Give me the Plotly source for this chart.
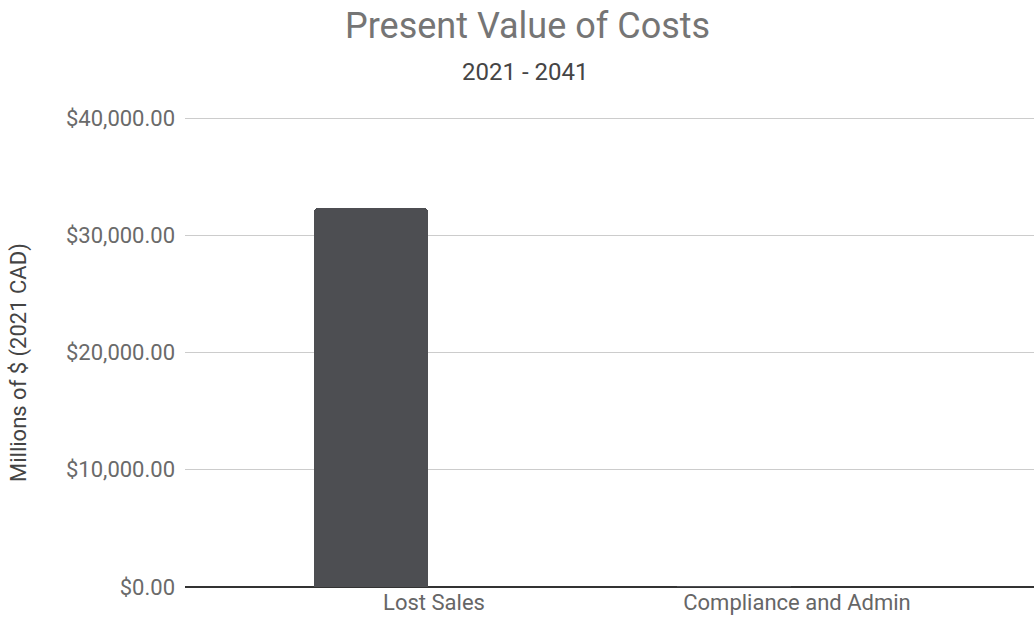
import plotly.graph_objects as go

categories = ["Lost Sales", "Compliance and Admin"]
present_value = [32350, 38]
tick_values = [0, 10000, 20000, 30000, 40000]
tick_labels = ["$0.00", "$10,000.00", "$20,000.00", "$30,000.00", "$40,000.00"]

PLOT_LEFT, PLOT_TOP, PLOT_BOTTOM = 185, 114, 37
PLOT_W = 1034 - PLOT_LEFT
PLOT_H = 624 - PLOT_TOP - PLOT_BOTTOM
# headroom above the top gridline so it is kept inside the plot area
HEADROOM_PX = 4


def page_x(px):
    return (px - PLOT_LEFT) / PLOT_W


def page_y(py):
    return (624 - PLOT_BOTTOM - py) / PLOT_H


fig = go.Figure(
    go.Bar(
        x=categories,
        y=present_value,
        marker=dict(color="#4d4e52", cornerradius=4, line=dict(width=0)),
        offset=-0.33,
        width=0.314,
        hoverinfo="x+y",
    )
)

fig.update_layout(
    width=1034,
    height=624,
    margin=dict(l=PLOT_LEFT, r=0, t=PLOT_TOP, b=PLOT_BOTTOM),
    paper_bgcolor="white",
    plot_bgcolor="white",
    font=dict(family="Roboto, Arial, sans-serif", color="#5f5f5f"),
    showlegend=False,
    bargap=0,
)

# title, subtitle and y-axis caption, positioned in page pixels
fig.add_annotation(
    text="Present Value of Costs", xref="paper", yref="paper",
    x=page_x(527), y=page_y(26), xanchor="center", yanchor="middle",
    showarrow=False, font=dict(size=36, color="#757575"),
)
fig.add_annotation(
    text="2021 - 2041", xref="paper", yref="paper",
    x=page_x(525), y=page_y(72), xanchor="center", yanchor="middle",
    showarrow=False, font=dict(size=24, color="#454545"),
)
fig.add_annotation(
    text="Millions of $ (2021 CAD)", xref="paper", yref="paper",
    x=page_x(19), y=page_y(363), xanchor="center", yanchor="middle",
    textangle=-90, showarrow=False, font=dict(size=22, color="#444444"),
)

fig.update_xaxes(
    range=[-0.686, 1.653],
    showgrid=False,
    showline=False,
    zeroline=False,
    ticks="",
    tickfont=dict(size=22, color="#666666"),
    tickmode="array",
    tickvals=[0, 1],
    ticktext=categories,
)
fig.update_yaxes(
    range=[0, 40000 * PLOT_H / (PLOT_H - HEADROOM_PX)],
    tickvals=tick_values,
    ticktext=tick_labels,
    showgrid=True,
    gridcolor="#cccccc",
    gridwidth=1,
    zeroline=True,
    zerolinecolor="#333333",
    zerolinewidth=2,
    showline=False,
    ticks="",
    ticklabelstandoff=9,
    tickfont=dict(size=22, color="#6a6a6a"),
)

fig.write_html("out.html")
